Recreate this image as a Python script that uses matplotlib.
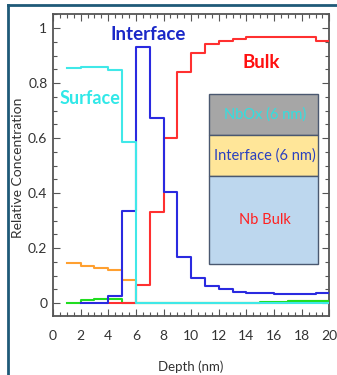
import matplotlib
matplotlib.use("Agg")
import numpy as np
from matplotlib import pyplot as plt
from matplotlib.patches import Rectangle
from matplotlib.lines import Line2D
from matplotlib.ticker import MultipleLocator

# depth bins (nm), one value per 1 nm bin from x=1 to x=20
edges = list(range(1, 21))
surface = [0.856, 0.858, 0.857, 0.847, 0.585] + [0.002] * 14
interface = [np.nan, 0.0, 0.0, 0.025, 0.335, 0.932, 0.674, 0.405, 0.168, 0.092,
             0.063, 0.050, 0.041, 0.036, 0.035, 0.034, 0.034, 0.034, 0.037]
bulk = [np.nan, np.nan, np.nan, 0.0, 0.0, 0.064, 0.33, 0.599, 0.839, 0.91,
        0.942, 0.954, 0.96, 0.968, 0.968, 0.968, 0.966, 0.966, 0.954]
orange = [0.144, 0.135, 0.126, 0.12, 0.084] + [0.0] * 11 + [0.008, 0.008, 0.008]
green = [0.0, 0.013, 0.016, 0.016, 0.0] + [0.0] * 9 + [0.004, 0.004, 0.008, 0.008, 0.008]

xticks = [0, 2, 4, 6, 8, 10, 12, 14, 16, 18, 20]
yticks = [0, 0.2, 0.4, 0.6, 0.8, 1]
yticklabels = ["0", "0.2", "0.4", "0.6", "0.8", "1"]

plt.rcParams['font.family'] = ['Lato', 'DejaVu Sans']

fig = plt.figure(figsize=(3.37, 3.75), dpi=100)
ax = fig.add_axes([0.1573, 0.1573, 0.820, 0.8053])


def stepline(vals, color, z):
    x = edges[:len(vals) + 1]
    y = list(vals) + [vals[-1]]
    ax.step(x, y, where="post", color=color, lw=1.5, zorder=z)


stepline(orange, "#ffa030", 2)
stepline(green, "#20dd20", 3)
stepline(bulk, "#ff3030", 4)
stepline(interface, "#2a2ae0", 5)
stepline(surface, "#40e8e8", 6)

ax.set_xlim(0, 20)
ax.set_ylim(-0.047, 1.051)
ax.set_xticks(xticks)
ax.set_yticks(yticks)
ax.set_yticklabels(yticklabels)
ax.xaxis.set_minor_locator(MultipleLocator(0.5))
ax.yaxis.set_minor_locator(MultipleLocator(0.05))
ax.tick_params(which="both", direction="in", top=True, right=True, colors="#555555",
               labelcolor="#333333", labelsize=10, width=0.8)
ax.tick_params(which="major", length=5)
ax.tick_params(which="minor", length=3)
ax.tick_params(axis="x", which="major", pad=10)
ax.tick_params(axis="y", which="major", pad=4)
for s in ax.spines.values():
    s.set_color("#555555")
    s.set_linewidth(1.3)
ax.set_xlabel("Depth (nm)", fontsize=9.5, color="#333333", labelpad=13)
ax.set_ylabel("Relative Concentration", fontsize=10, color="#333333")
ax.yaxis.set_label_coords(-0.105, 0.49)

ax.text(6.9, 0.975, "Interface", color="#1a28c8", fontsize=13.5, fontweight="bold",
        ha="center", va="center")
ax.text(2.7, 0.745, "Surface", color="#30e8e8", fontsize=13, fontweight="bold",
        ha="center", va="center")
ax.text(15.1, 0.875, "Bulk", color="#ff1010", fontsize=13.5, fontweight="bold",
        ha="center", va="center")

# layer schematic
bx0, bx1 = 11.3, 19.2
layers = [(0.611, 0.760, "#a6a6a6", "NbOx (6 nm)", "#30e0e0"),
          (0.462, 0.611, "#ffe699", "Interface (6 nm)", "#2a40c0"),
          (0.142, 0.462, "#bdd7ee", "Nb Bulk", "#ff2020")]
for y0, y1, fc, label, tc in layers:
    ax.add_patch(Rectangle((bx0, y0), bx1 - bx0, y1 - y0, facecolor=fc,
                           edgecolor="#4a5870", lw=1.0, zorder=7))
    ax.text((bx0 + bx1) / 2 + 0.1, (y0 + y1) / 2, label, color=tc, fontsize=10.5,
            ha="center", va="center", zorder=8)

# outer frame
fig.add_artist(Line2D([8 / 337, 8 / 337], [0, 1 - 5 / 375], color="#1f5a78", lw=2))
fig.add_artist(Line2D([8 / 337, 1], [1 - 5 / 375, 1 - 5 / 375], color="#1f5a78", lw=2))

fig.savefig("out.png", dpi=100)
